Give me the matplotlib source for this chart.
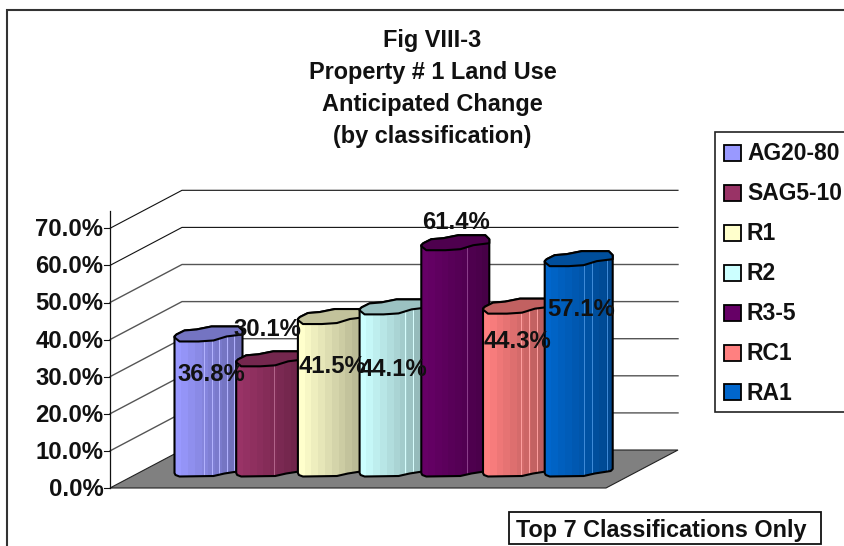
import numpy as np
import matplotlib
matplotlib.use("Agg")
import matplotlib.pyplot as plt
from matplotlib.patches import Polygon, Rectangle, PathPatch
from matplotlib.path import Path
from matplotlib.colors import to_rgb

plt.rcParams['font.family'] = ['Liberation Sans', 'DejaVu Sans']
plt.rcParams['font.weight'] = 'bold'

# Chart data
categories = ["AG20-80", "SAG5-10", "R1", "R2", "R3-5", "RC1", "RA1"]
values = [36.8, 30.1, 41.5, 44.1, 61.4, 44.3, 57.1]
axis_ticks = [0, 10, 20, 30, 40, 50, 60, 70]
tick_labels = ["0.0%", "10.0%", "20.0%", "30.0%", "40.0%", "50.0%", "60.0%", "70.0%"]
title_lines = ["Fig VIII-3", "Property # 1 Land Use", "Anticipated Change", "(by classification)"]
note = "Top 7 Classifications Only"

# Styling
colors = ["#9999FF", "#993366", "#FFFFCC", "#CCFFFF", "#660066", "#FF8080", "#0066CC"]
facet_lines = [[30, 38, 45, 53, 60], [38], [], [45, 53], [46], [38, 46, 54], [39, 47, 62]]
label_shift = [(37, 38), (31, -32), (35, 47), (34, 60), (35, -23), (35, 33), (36, 48)]

# Pixel layout of the oblique projection
W, H = 845, 546
AX_X, AX_Y = 110, 488
DEPTH_X, DEPTH_Y = 72, -38
WALL_R = 678
PX_PER_UNIT = 3.71
BAR_BASE = 473
BAR_X0, BAR_STEP = 174.5, 61.7

# Wavy outline of a faceted column, offsets from its left edge
TOP_BACK = [(0, 0), (2, -2), (10, -6), (22, -7), (37, -10), (64, -10), (68, -6), (68, -2)]
TOP_FRONT = [(52, 0), (39, 4), (24, 5), (5, 5), (0, 1)]
BOTTOM = [(0, 0), (1, 2), (5, 3.5), (39, 3), (50, 0.5), (66, -2), (68, -4)]

fig = plt.figure(figsize=(W / 100, H / 100), dpi=100)
ax = fig.add_axes([0, 0, 1, 1])
ax.set_xlim(0, W)
ax.set_ylim(H, 0)
ax.axis("off")


def front_y(v):
    return AX_Y - v * PX_PER_UNIT


def shade(color, f):
    return tuple(c * f for c in to_rgb(color))


# Outer chart frame, open on the right and bottom
ax.plot([7, 7, W], [H, 10, 10], color="#333333", lw=1.5, zorder=1, solid_joinstyle="miter")

# Floor
floor = [(AX_X, AX_Y), (AX_X + DEPTH_X, AX_Y + DEPTH_Y),
         (WALL_R, AX_Y + DEPTH_Y), (WALL_R - DEPTH_X, AX_Y)]
ax.add_patch(Polygon(floor, closed=True, facecolor="#808080", edgecolor="#222222", lw=0.8, zorder=2))

# Wall gridlines and side-wall diagonals
for v, lab in zip(axis_ticks, tick_labels):
    y = front_y(v)
    if v > 0:
        strong = v >= 60
        ax.plot([AX_X, AX_X + DEPTH_X, WALL_R], [y, y + DEPTH_Y, y + DEPTH_Y],
                color="#111111" if strong else "#555555", lw=0.8 if strong else 1.0, zorder=2)
    ax.plot([AX_X - 6, AX_X], [y, y], color="#111111", lw=0.8, zorder=3)
    ax.text(AX_X - 6.5, y + 1.5, lab, ha="right", va="center", fontsize=17.2, color="#111111", zorder=6)
ax.plot([AX_X, AX_X], [AX_Y, 211], color="#111111", lw=0.9, zorder=3)

# Faceted columns, drawn left to right so each overlaps the previous one
for i, (v, col) in enumerate(zip(values, colors)):
    x0 = BAR_X0 + i * BAR_STEP
    top = BAR_BASE - v * PX_PER_UNIT
    z = 4 + i * 0.01

    body = [(x0 + dx, BAR_BASE + dy) for dx, dy in BOTTOM]
    body += [(x0 + dx, top + dy) for dx, dy in reversed(TOP_BACK)]
    clip = PathPatch(Path(body + [body[0]], closed=False), facecolor="none", edgecolor="none", zorder=z)
    ax.add_patch(clip)

    # Vertical shading bands, lighter on the left
    edges = np.linspace(0, 68, 11)
    factors = np.linspace(1.0, 0.70, 10)
    for a, b, f in zip(edges[:-1], edges[1:], factors):
        r = Rectangle((x0 + a, top - 15), b - a + 0.6, v * PX_PER_UNIT + 25,
                      facecolor=shade(col, f), edgecolor="none", zorder=z)
        ax.add_patch(r)
        r.set_clip_path(clip)
    for dx in facet_lines[i]:
        ln, = ax.plot([x0 + dx, x0 + dx], [top - 15, BAR_BASE + 8],
                      color=tuple(min(1, c * 0.75 + 0.25) for c in to_rgb(col)), lw=0.7, zorder=z)
        ln.set_clip_path(clip)

    ax.add_patch(Polygon(body, closed=True, facecolor="none", edgecolor="black", lw=1.5,
                         joinstyle="round", zorder=z))
    cap = [(x0 + dx, top + dy) for dx, dy in TOP_BACK + TOP_FRONT]
    ax.add_patch(Polygon(cap, closed=True, facecolor=shade(col, 0.76), edgecolor="black", lw=1.5,
                         joinstyle="round", zorder=z))

# Value labels sit above all columns
for i, v in enumerate(values):
    x0 = BAR_X0 + i * BAR_STEP
    top = BAR_BASE - v * PX_PER_UNIT
    sx, sy = label_shift[i]
    ax.text(x0 + sx, top + sy, f"{v:.1f}%", ha="center", va="center", fontsize=17.2, color="#111111", zorder=7)

# Title
for line, y in zip(title_lines, [41, 73, 105, 137]):
    ax.text(432.5, y, line, ha="center", va="center", fontsize=16.9, color="#111111", zorder=7)

# Legend box, running off the right edge
ax.plot([W, 715, 715, W], [132, 132, 412, 412], color="#222222", lw=1.2, zorder=5, solid_joinstyle="miter")
for i, (name, col) in enumerate(zip(categories, colors)):
    yc = 153 + i * 39.9
    ax.add_patch(Rectangle((724, yc - 8), 17, 16, facecolor=col, edgecolor="black", lw=1.3, zorder=6))
    ax.text(747, yc + 1, name, ha="left", va="center", fontsize=16.5, color="#111111", zorder=7)

# Footnote box
ax.add_patch(Rectangle((509, 512), 312, 32, facecolor="white", edgecolor="#111111", lw=1.3, zorder=6))
ax.text(516, 530.5, note, ha="left", va="center", fontsize=16.8, color="#111111", zorder=7)

fig.savefig("out.png", dpi=100)
